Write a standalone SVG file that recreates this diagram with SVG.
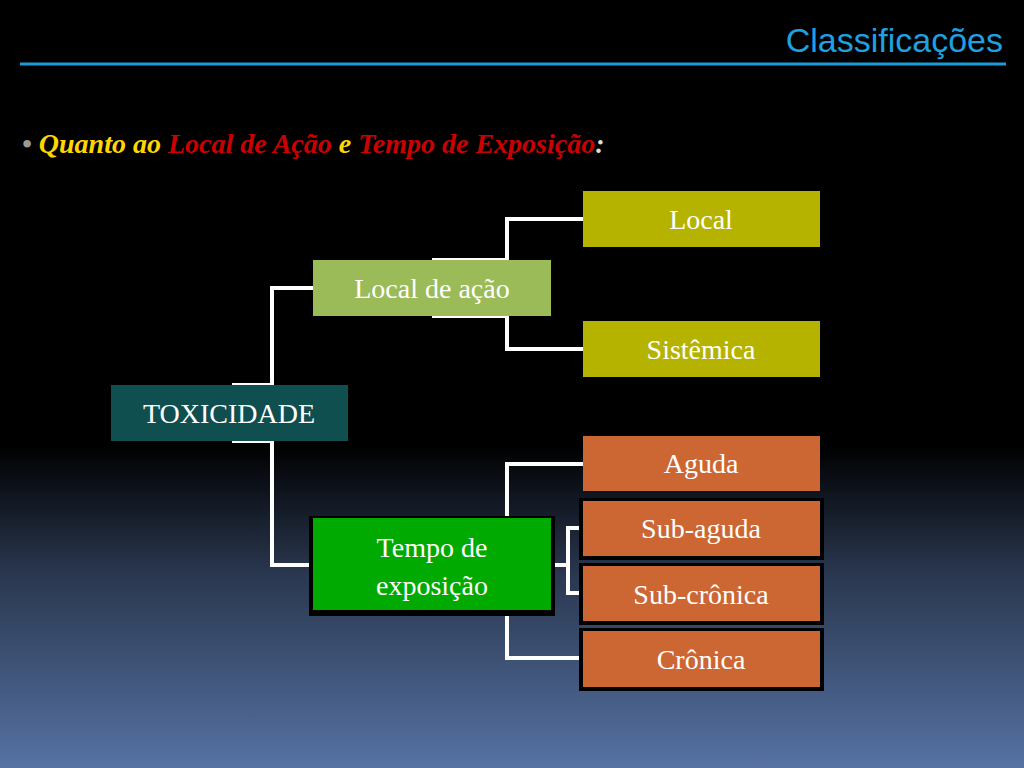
<svg xmlns="http://www.w3.org/2000/svg" width="1024" height="768" viewBox="0 0 1024 768">
<defs>
<linearGradient id="bg" x1="0" y1="0" x2="0" y2="1">
<stop offset="0" stop-color="#000"/><stop offset="0.58" stop-color="#000"/><stop offset="0.75" stop-color="#2a3850"/><stop offset="1" stop-color="#5672a4"/>
</linearGradient>
</defs>
<style>
.t{font-family:"Liberation Serif",serif;font-size:28px;fill:#fff;text-anchor:middle}
.c{stroke:#fff;stroke-width:4;fill:none}
.sh{fill:#000}
</style>
<rect width="1024" height="768" fill="url(#bg)"/>
<text x="1003" y="52" font-family="Liberation Sans,sans-serif" font-size="34" fill="#1fa0e0" text-anchor="end">Classificações</text>
<line x1="20" y1="64" x2="1006" y2="64" stroke="#1a9cd8" stroke-width="3"/>
<text x="22" y="153" font-family="Liberation Serif,serif" font-size="28" font-weight="bold" font-style="italic" fill="#ffd700"><tspan fill="#999">•</tspan> Quanto ao <tspan fill="#cc0000">Local de Ação</tspan> e <tspan fill="#cc0000">Tempo de Exposição</tspan><tspan fill="#ddd">:</tspan></text>
<g id="connectors">
<path class="c" d="M232 385H272V288H313M232 441H272V565H313"/>
<path class="c" d="M432 260H507V219H583M432 316H507V349H583"/>
<path class="c" d="M432 518H507V464H583M551 565H568M583 528H568V593H583M432 612H507V658H583"/>
</g>
<g id="toxicidade"><rect x="111" y="385" width="237" height="56" fill="#0f4f4f"/><text class="t" x="229" y="423">TOXICIDADE</text></g>
<g id="local-acao"><rect x="313" y="260" width="238" height="56" fill="#9bbb59"/><text class="t" x="432" y="298">Local de ação</text></g>
<g id="tempo"><rect x="309" y="516" width="246" height="100" class="sh"/><rect x="313" y="518" width="238" height="92" fill="#00aa00"/><text class="t" x="432" y="557">Tempo de</text><text class="t" x="432" y="595">exposição</text></g>
<g id="local"><rect x="583" y="191" width="237" height="56" fill="#b5b300"/><text class="t" x="701" y="229">Local</text></g>
<g id="sistemica"><rect x="583" y="321" width="237" height="56" fill="#b5b300"/><text class="t" x="701" y="359">Sistêmica</text></g>
<g id="aguda"><rect x="583" y="436" width="237" height="55" fill="#cc6633"/><text class="t" x="701" y="473">Aguda</text></g>
<g id="subaguda"><rect x="579" y="498" width="245" height="62" class="sh"/><rect x="583" y="501" width="237" height="55" fill="#cc6633"/><text class="t" x="701" y="538">Sub-aguda</text></g>
<g id="subcronica"><rect x="579" y="563" width="245" height="62" class="sh"/><rect x="583" y="566" width="237" height="55" fill="#cc6633"/><text class="t" x="701" y="604">Sub-crônica</text></g>
<g id="cronica"><rect x="579" y="628" width="245" height="63" class="sh"/><rect x="583" y="631" width="237" height="56" fill="#cc6633"/><text class="t" x="701" y="669">Crônica</text></g>
</svg>
